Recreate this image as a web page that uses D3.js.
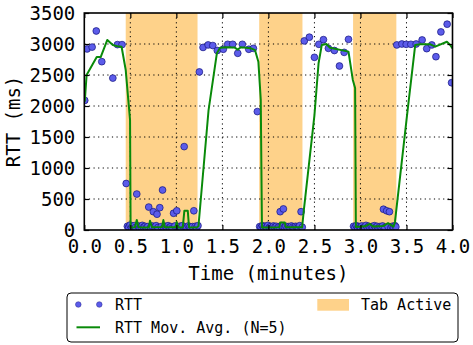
<!DOCTYPE html>
<html>
<head>
<meta charset="utf-8">
<script src="https://cdn.jsdelivr.net/npm/d3@7"></script>
<style>
  html, body { margin: 0; padding: 0; background: #fff; }
  svg { display: block; }
  text { font-family: "DejaVu Sans Mono", monospace; fill: #000; }
</style>
</head>
<body>
<svg id="chart" width="473" height="345"></svg>
<script>
// ---------------- data ----------------
const xTicks = [0, 0.5, 1.0, 1.5, 2.0, 2.5, 3.0, 3.5, 4.0];
const yTicks = [0, 500, 1000, 1500, 2000, 2500, 3000, 3500];

const tabStart = [0.45, 1.90, 2.92];
const tabEnd   = [1.23, 2.37, 3.39];

const rttTime = [
  0.005, 0.03, 0.085, 0.13, 0.19, 0.31, 0.36, 0.41,
  0.455, 0.468, 0.482, 0.497, 0.512, 0.527, 0.542, 0.556, 0.57, 0.585, 0.600, 0.615, 0.630, 0.645, 0.660, 0.675, 0.690,
  0.70, 0.720, 0.735, 0.75, 0.766, 0.78, 0.79, 0.80, 0.82, 0.835, 0.85, 0.865, 0.88, 0.895, 0.91, 0.925, 0.94, 0.955,
  0.97, 0.985, 1.005, 1.02, 1.035, 1.05, 1.065, 1.085, 1.10, 1.115, 1.13, 1.145, 1.16, 1.175, 1.19, 1.205, 1.22, 1.235,
  1.25, 1.29, 1.345, 1.396, 1.445, 1.51, 1.558, 1.612, 1.667, 1.717, 1.787, 1.837, 1.88,
  1.905, 1.92, 1.935, 1.95, 1.965, 1.98, 1.995, 2.01, 2.025, 2.04, 2.055, 2.07, 2.085, 2.10, 2.115, 2.128, 2.14, 2.163,
  2.175, 2.19, 2.205, 2.22, 2.235, 2.25, 2.265, 2.28, 2.295, 2.31, 2.325, 2.34, 2.355, 2.368,
  2.39, 2.445, 2.50, 2.548, 2.598, 2.652, 2.717, 2.772, 2.823, 2.87,
  2.925, 2.94, 2.955, 2.97, 2.985, 3.00, 3.015, 3.03, 3.045, 3.06, 3.075, 3.09, 3.105, 3.12, 3.135, 3.15, 3.165, 3.18,
  3.195, 3.21, 3.225, 3.24, 3.25, 3.265, 3.285, 3.30, 3.315, 3.33, 3.345, 3.36, 3.375, 3.385,
  3.395, 3.45, 3.497, 3.548, 3.605, 3.67, 3.72, 3.775, 3.82, 3.874, 3.942, 3.99
];
const rttMs = [
  2090, 2920, 2950, 3210, 2715, 2450, 2990, 2990,
  750, 60, 45, 80, 35, 55, 70, 40, 580, 65, 30, 50, 75, 45, 60, 35, 55,
  370, 40, 65, 295, 50, 70, 255, 40, 360, 55, 645, 35, 60, 45, 70, 40, 55, 30,
  270, 65, 310, 45, 60, 35, 70, 1345, 50, 40, 65, 45, 30, 55, 310, 60, 40, 70,
  2550, 2945, 2985, 2975, 2895, 2915, 2995, 2995, 2850, 2995, 2915, 2930, 1910,
  55, 40, 70, 35, 60, 45, 75, 40, 55, 30, 65, 45, 60, 35, 50, 295, 70, 340,
  45, 60, 35, 55, 40, 65, 45, 30, 60, 50, 40, 70, 295, 45,
  3050, 3110, 2785, 2995, 3070, 2930, 2895, 2645, 2865, 3075,
  60, 40, 70, 35, 55, 45, 65, 30, 50, 75, 40, 60, 35, 55, 45, 70, 40, 60,
  30, 55, 45, 65, 335, 40, 310, 55, 295, 35, 60, 45, 70, 50,
  2985, 3000, 2995, 2995, 3000, 3065, 2925, 2985, 2795, 3195, 3320, 2375
];

const avgTime = [
  0.005, 0.025, 0.135, 0.178, 0.25, 0.31, 0.36, 0.405, 0.45, 0.478, 0.497, 0.503,
  0.55, 0.57, 0.59, 0.70, 0.714, 0.735, 0.845, 0.859, 0.875, 0.99, 1.004, 1.02, 1.07, 1.087, 1.124, 1.138, 1.225, 1.24,
  1.35, 1.44, 1.475, 1.55, 1.63, 1.667, 1.70, 1.81, 1.855, 1.891, 1.917, 1.93,
  2.12, 2.128, 2.178, 2.19, 2.36, 2.366, 2.385, 2.50, 2.545, 2.58, 2.63, 2.67, 2.87, 2.917, 2.942, 2.95,
  3.05, 3.10, 3.14, 3.25, 3.30, 3.36, 3.375, 3.51, 3.595, 3.65, 3.76, 3.812, 3.939, 3.975, 4.0
];
const avgMs = [
  2070, 2500, 2790, 2790, 3065, 2985, 2965, 2955, 2580, 2100, 1775, 40,
  45, 160, 45, 40, 150, 45, 50, 160, 45, 45, 130, 40, 45, 310, 310, 40, 45, 60,
  1935, 2850, 2940, 2947, 2945, 2910, 2947, 2930, 2900, 2715, 2100, 40,
  45, 120, 120, 45, 45, 40, 320, 1850, 2690, 2985, 3000, 2940, 2877, 2420, 2290, 50,
  60, 100, 55, 65, 110, 55, 130, 1900, 2985, 2995, 2995, 2957, 3037, 2985, 2930
];

const seriesLabels = ["RTT", "RTT Mov. Avg. (N=5)", "Tab Active"];

// ---------------- chart ----------------
const svg = d3.select("#chart");
const L = 84.3, R = 452.5, T = 13, B = 230;
const x = d3.scaleLinear().domain([0, 4]).range([L, R]);
const y = d3.scaleLinear().domain([0, 3500]).range([B, T]);

const tabColor = "#fed28a";
const dotFill = "#5c5cea";
const dotStroke = "#14147c";
const lineColor = "#098a09";

svg.append("defs").append("clipPath").attr("id", "plotclip")
  .append("rect").attr("x", L).attr("y", T).attr("width", R - L).attr("height", B - T);

// tab active spans
svg.append("g").selectAll("rect").data(tabStart.map((s, i) => [s, tabEnd[i]]))
  .join("rect")
  .attr("x", d => x(d[0])).attr("width", d => x(d[1]) - x(d[0]))
  .attr("y", T).attr("height", B - T)
  .attr("fill", tabColor);

// grid
const grid = svg.append("g");
grid.selectAll("line.gx").data(xTicks.slice(1, -1)).join("line")
  .attr("x1", d => x(d)).attr("x2", d => x(d)).attr("y1", T).attr("y2", B)
  .attr("stroke", "#000").attr("stroke-width", 1).attr("stroke-dasharray", "1.2,3.4");
grid.selectAll("line.gy").data(yTicks.slice(1, -1)).join("line")
  .attr("y1", d => y(d)).attr("y2", d => y(d)).attr("x1", L).attr("x2", R)
  .attr("stroke", "#000").attr("stroke-width", 1).attr("stroke-dasharray", "1.2,3.4");

// scatter
const plot = svg.append("g").attr("clip-path", "url(#plotclip)");
plot.selectAll("circle").data(rttTime.map((t, i) => [t, rttMs[i]]))
  .join("circle")
  .attr("cx", d => x(d[0])).attr("cy", d => y(d[1])).attr("r", 3.4)
  .attr("fill", dotFill).attr("stroke", dotStroke).attr("stroke-width", 0.7);

// moving average
const line = d3.line().x(d => x(d[0])).y(d => y(d[1]));
plot.append("path").datum(avgTime.map((t, i) => [t, avgMs[i]]))
  .attr("d", line).attr("fill", "none")
  .attr("stroke", lineColor).attr("stroke-width", 2).attr("stroke-linejoin", "round");

// axes
const fs = 19;
const xAxis = svg.append("g").attr("transform", `translate(0,${B})`)
  .call(d3.axisBottom(x).tickValues(xTicks).tickFormat(d3.format(".1f")).tickSize(-5).tickPadding(10));
const yAxis = svg.append("g").attr("transform", `translate(${L},0)`)
  .call(d3.axisLeft(y).tickValues(yTicks).tickFormat(d3.format("d")).tickSize(-5).tickPadding(9));
const xTop = svg.append("g").attr("transform", `translate(0,${T})`)
  .call(d3.axisTop(x).tickValues(xTicks).tickFormat("").tickSize(-5));
const yRight = svg.append("g").attr("transform", `translate(${R},0)`)
  .call(d3.axisRight(y).tickValues(yTicks).tickFormat("").tickSize(-5));
[xAxis, yAxis, xTop, yRight].forEach(a => {
  a.select(".domain").remove();
  a.selectAll(".tick line").attr("stroke", "#000").attr("stroke-width", 1.2);
  a.selectAll("text").attr("font-family", "DejaVu Sans Mono").attr("font-size", fs).attr("fill", "#000");
});
yAxis.selectAll("text").attr("dy", "0.36em");

// frame
svg.append("rect").attr("x", L).attr("y", T).attr("width", R - L).attr("height", B - T)
  .attr("fill", "none").attr("stroke", "#000").attr("stroke-width", 1.6);

// axis labels
svg.append("text").attr("x", (L + R) / 2).attr("y", 280).attr("text-anchor", "middle")
  .attr("font-size", fs).text("Time (minutes)");
svg.append("text").attr("transform", `translate(19.5,${(T + B) / 2}) rotate(-90)`)
  .attr("text-anchor", "middle").attr("font-size", fs).text("RTT (ms)");

// legend
const lg = svg.append("g");
lg.append("rect").attr("x", 67).attr("y", 293).attr("width", 391).attr("height", 49).attr("rx", 4)
  .attr("fill", "#fff").attr("stroke", "#000").attr("stroke-width", 1);
[78.3, 99.3].forEach(cx => lg.append("circle").attr("cx", cx).attr("cy", 304.5).attr("r", 2.8)
  .attr("fill", dotFill).attr("stroke", "#24248a").attr("stroke-width", 0.5));
lg.append("text").attr("x", 115).attr("y", 309.5).attr("font-size", 15).text(seriesLabels[0]);
lg.append("line").attr("x1", 76.5).attr("x2", 100).attr("y1", 327.3).attr("y2", 327.3)
  .attr("stroke", lineColor).attr("stroke-width", 2);
lg.append("text").attr("x", 115).attr("y", 332.5).attr("font-size", 15).text(seriesLabels[1]);
lg.append("rect").attr("x", 317.3).attr("y", 299).attr("width", 31.7).attr("height", 11.7).attr("fill", tabColor);
lg.append("text").attr("x", 361).attr("y", 309.5).attr("font-size", 15).text(seriesLabels[2]);
</script>
</body>
</html>
